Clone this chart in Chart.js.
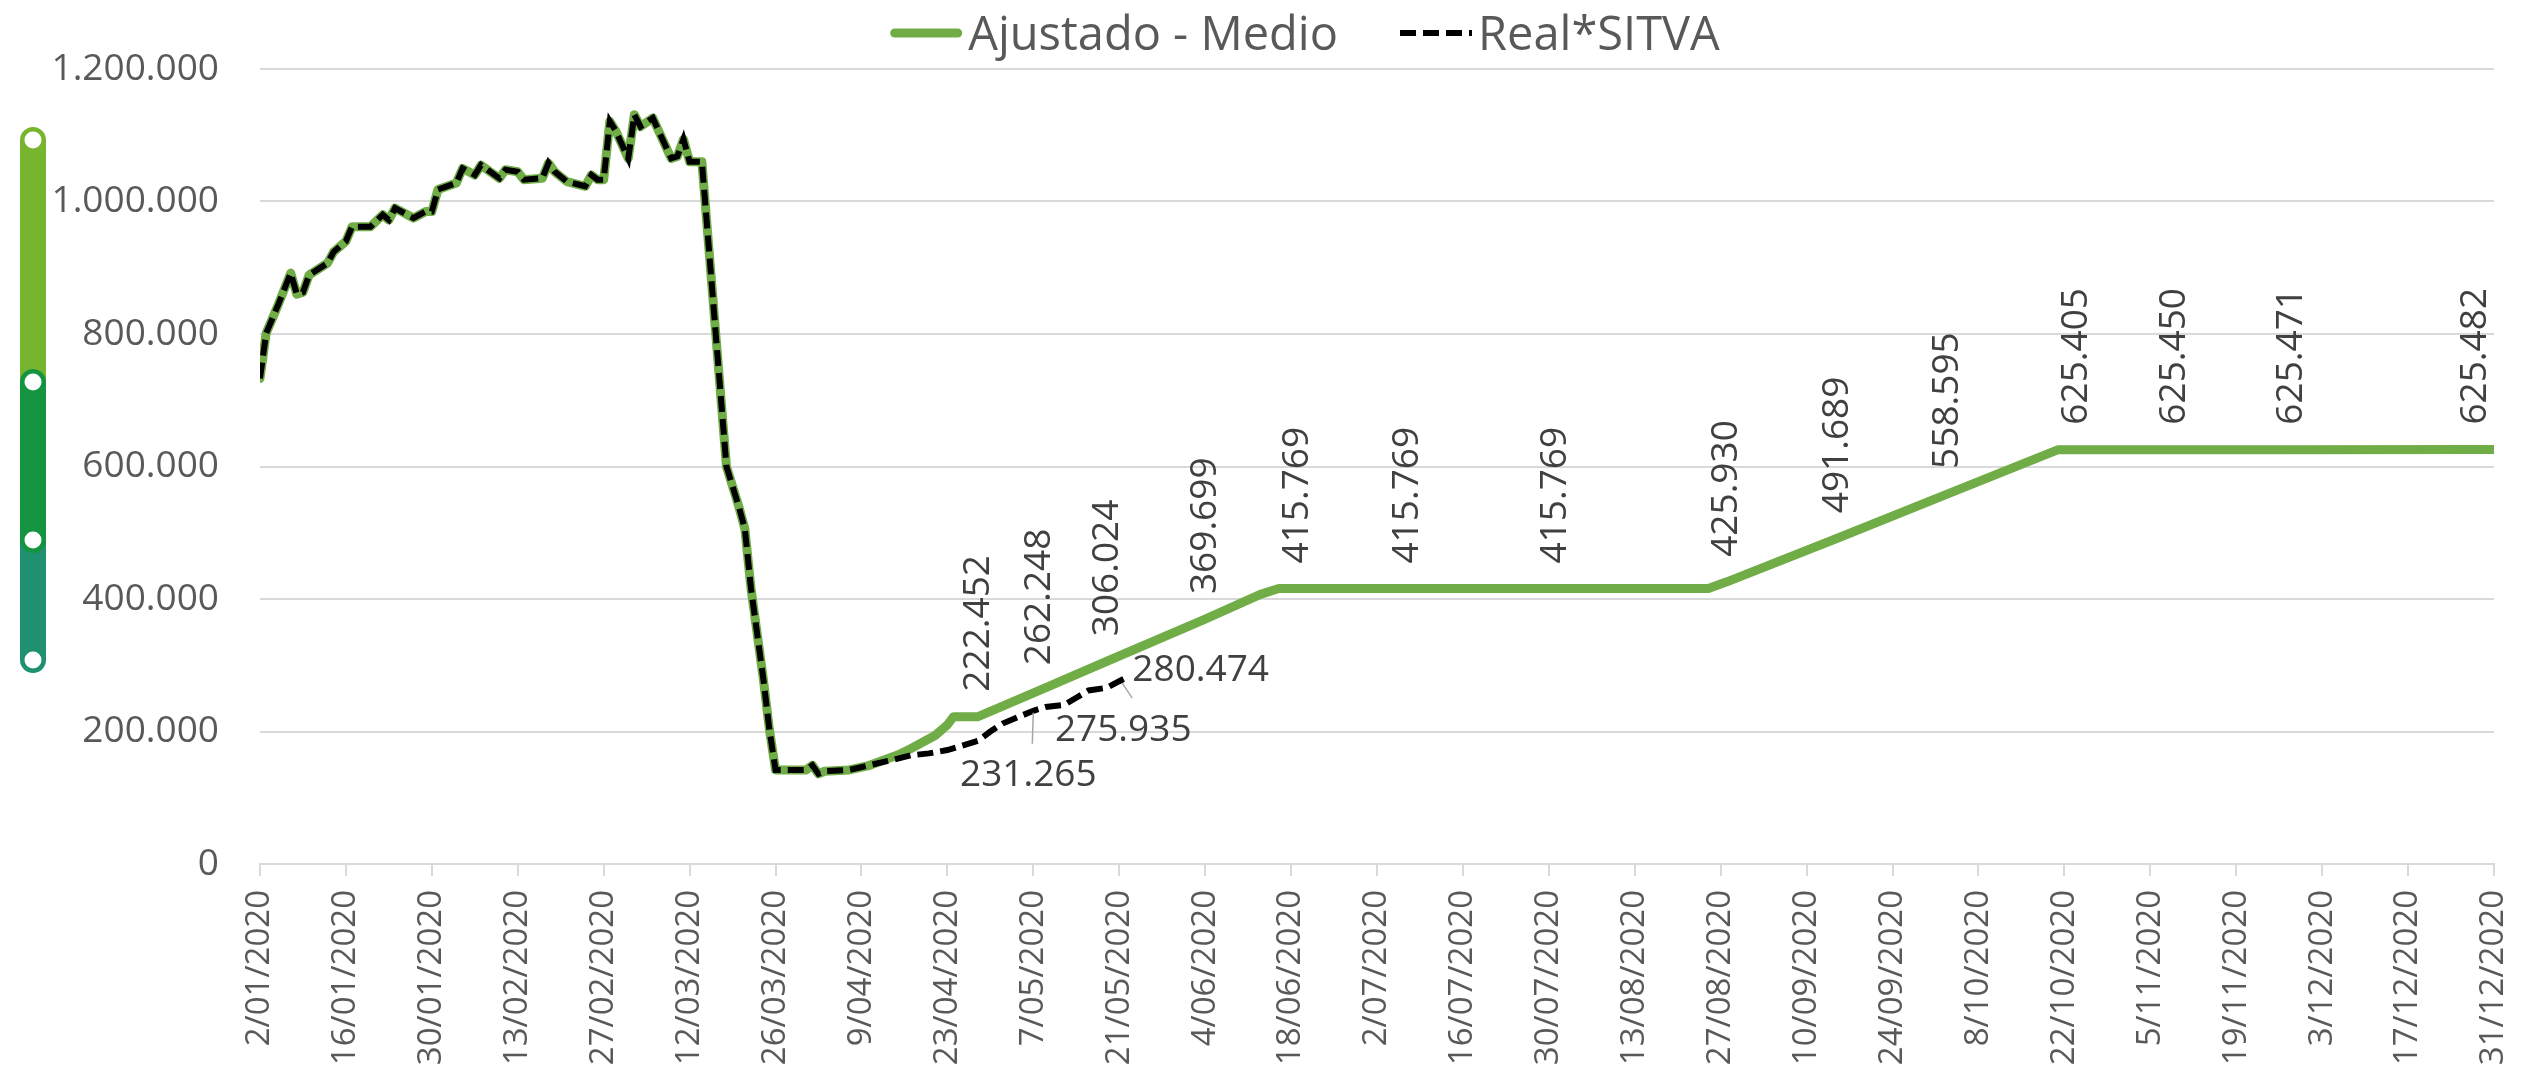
<!DOCTYPE html>
<html>
<head>
<meta charset="utf-8">
<title>Ajustado - Medio / Real*SITVA</title>
<script src="https://cdn.jsdelivr.net/npm/chart.js@4.4.1/dist/chart.umd.min.js"></script>
<style>
  html, body { margin: 0; padding: 0; background: #ffffff; }
  #wrap { position: relative; width: 2521px; height: 1081px; }
</style>
</head>
<body>
<div id="wrap"><canvas id="chart"></canvas></div>
<script>
// X axis: one tick every 14 days
const tickLabels = [
  '2/01/2020', '16/01/2020', '30/01/2020', '13/02/2020', '27/02/2020', '12/03/2020',
  '26/03/2020', '9/04/2020', '23/04/2020', '7/05/2020', '21/05/2020', '4/06/2020',
  '18/06/2020', '2/07/2020', '16/07/2020', '30/07/2020', '13/08/2020', '27/08/2020',
  '10/09/2020', '24/09/2020', '8/10/2020', '22/10/2020', '5/11/2020', '19/11/2020',
  '3/12/2020', '17/12/2020', '31/12/2020'
];
const tickStep = 14;
const yTicks = [0, 200000, 400000, 600000, 800000, 1000000, 1200000];

// Real*SITVA - days counted from 2/01/2020
const realDays = [
  0, 1, 3, 5, 6, 7, 8, 11, 12, 14, 15, 18, 20, 21, 22, 25, 27, 28, 29, 32,
  33, 35, 36, 39, 40, 42, 43, 46, 47, 48, 50, 53, 54, 55, 56, 57, 58, 60, 61, 62,
  64, 67, 68, 69, 70, 72, 76, 78, 79, 80, 82, 83, 84, 89, 90, 91, 92, 96,
  103, 106, 109, 112, 117, 119, 121, 126, 128, 131, 133, 135, 138, 140, 141
];
const realValues = [
  733000, 801000, 845000, 892000, 860000, 863000, 889000, 907000, 924000, 940000,
  962000, 962000, 980000, 972000, 990000, 975000, 985000, 985000, 1018000, 1028000,
  1050000, 1040000, 1055000, 1035000, 1048000, 1045000, 1033000, 1035000, 1058000, 1045000,
  1030000, 1023000, 1040000, 1033000, 1033000, 1121000, 1106000, 1065000, 1131000, 1113000,
  1126000, 1065000, 1068000, 1094000, 1060000, 1060000, 600000, 540000, 506000, 416000,
  280000, 203000, 142000, 142000, 149000, 136000, 140000, 142000,
  157000, 164000, 167000, 172000, 186000, 200000, 212000, 231265, 237000, 240000,
  251000, 262000, 266000, 275935, 280474
];

// Ajustado - Medio: follows the real series up to this day, then the estimate
const ajustadoFromDay = 96;
const estimateDays = [
  99, 104, 106, 110, 112, 113, 117, 127, 138, 154, 163, 166, 169, 187, 211,
  236, 239, 257, 275, 293, 296, 312, 331, 361, 364
];
const estimateValues = [
  148000, 165000, 174000, 194000, 210000, 222452, 222452, 262248, 306024, 369699,
  407000, 415769, 415769, 415769, 415769, 415769, 425930, 491689, 558595, 625405,
  625405, 625450, 625471, 625482, 625482
];

// Points that carry a value label
const ajustadoLabelDays = [117, 127, 138, 154, 169, 187, 211, 239, 257, 275, 296, 312, 331, 361];
const realLabelDays = [126, 140, 141];

// ---------------------------------------------------------------

const fmt = v => String(Math.round(v)).replace(/\B(?=(\d{3})+(?!\d))/g, '.');

const realData = realDays.map((d, i) => ({ x: d, y: realValues[i] }));
const ajustadoData = realData
  .filter(p => p.x <= ajustadoFromDay)
  .concat(estimateDays.map((d, i) => ({ x: d, y: estimateValues[i] })));

const FONT = '"Open Sans", "Noto Sans", sans-serif';
const AXIS_COLOR = '#595959';
const LABEL_COLOR = '#404040';
const GRID_COLOR = '#D9D9D9';

// placement of the labels of the real series, relative to their point
const realLabelPlacement = {
  126: { dx: -5, dy: 65, align: 'center', leader: [0, 2, -1, 33] },
  140: { dx: 4, dy: 49, align: 'center', leader: [3, 2, 13, 17] },
  141: { dx: 7, dy: -8, align: 'left', leader: null }
};

// value labels drawn on top of the lines
const valueLabels = {
  id: 'valueLabels',
  afterDatasetsDraw(chart) {
    const ctx = chart.ctx;
    ctx.save();
    ctx.font = '37px ' + FONT;
    ctx.fillStyle = LABEL_COLOR;

    // adjusted series: rotated, above the point
    const metaA = chart.getDatasetMeta(0);
    ajustadoData.forEach((p, i) => {
      if (!ajustadoLabelDays.includes(p.x)) return;
      const el = metaA.data[i];
      ctx.save();
      ctx.translate(el.x, el.y - 25);
      ctx.rotate(-Math.PI / 2);
      ctx.textAlign = 'left';
      ctx.textBaseline = 'middle';
      ctx.fillText(fmt(p.y), 0, 0);
      ctx.restore();
    });

    // real series: horizontal labels with leader lines
    const metaR = chart.getDatasetMeta(1);
    realData.forEach((p, i) => {
      if (!realLabelDays.includes(p.x)) return;
      const el = metaR.data[i];
      const pl = realLabelPlacement[p.x];
      if (pl.leader) {
        ctx.beginPath();
        ctx.strokeStyle = '#A6A6A6';
        ctx.lineWidth = 1.5;
        ctx.moveTo(el.x + pl.leader[0], el.y + pl.leader[1]);
        ctx.lineTo(el.x + pl.leader[2], el.y + pl.leader[3]);
        ctx.stroke();
      }
      ctx.textAlign = pl.align;
      ctx.textBaseline = 'middle';
      ctx.fillText(fmt(p.y), el.x + pl.dx, el.y + pl.dy);
    });
    ctx.restore();
  }
};

// legend at the top, built from the dataset styles
const topLegend = {
  id: 'topLegend',
  afterDraw(chart) {
    const ctx = chart.ctx;
    const sets = chart.data.datasets;
    const lineLen = 72, textGap = 6, itemGap = 62, centerX = 1305, baseY = 50, midY = 33;
    ctx.save();
    ctx.font = '47px ' + FONT;
    const widths = sets.map(s => ctx.measureText(s.label).width);
    let total = 0;
    widths.forEach(w => { total += lineLen + textGap + w; });
    total += itemGap * (sets.length - 1);
    let x = centerX - total / 2;
    sets.forEach((s, i) => {
      ctx.beginPath();
      ctx.strokeStyle = s.borderColor;
      ctx.lineWidth = s.borderWidth;
      ctx.lineCap = s.borderCapStyle || 'butt';
      ctx.setLineDash(s.borderDash || []);
      const inset = ctx.lineCap === 'round' ? s.borderWidth / 2 : 0;
      ctx.moveTo(x + inset, midY);
      ctx.lineTo(x + lineLen - inset, midY);
      ctx.stroke();
      ctx.setLineDash([]);
      ctx.fillStyle = AXIS_COLOR;
      ctx.textAlign = 'left';
      ctx.textBaseline = 'alphabetic';
      ctx.fillText(s.label, x + lineLen + textGap, baseY);
      x += lineLen + textGap + widths[i] + itemGap;
    });
    ctx.restore();
  }
};

// coloured marker on the left edge
const sideMarker = {
  id: 'sideMarker',
  afterDraw(chart) {
    const ctx = chart.ctx;
    const cx = 33, w = 26, r = 8.5;
    const segs = [
      { y0: 140, y1: 382, c: '#78B52E' },
      { y0: 540, y1: 660, c: '#1F9170' },
      { y0: 382, y1: 540, c: '#14943F' }
    ];
    ctx.save();
    ctx.lineCap = 'round';
    ctx.lineWidth = w;
    segs.forEach(s => {
      ctx.beginPath();
      ctx.strokeStyle = s.c;
      ctx.moveTo(cx, s.y0);
      ctx.lineTo(cx, s.y1);
      ctx.stroke();
    });
    ctx.fillStyle = '#FFFFFF';
    [140, 382, 540, 660].forEach(y => {
      ctx.beginPath();
      ctx.arc(cx, y, r, 0, Math.PI * 2);
      ctx.fill();
    });
    ctx.restore();
  }
};

new Chart(document.getElementById('chart'), {
  type: 'line',
  data: {
    datasets: [
      {
        label: 'Ajustado - Medio',
        data: ajustadoData,
        borderColor: '#70AD47',
        borderWidth: 9,
        borderCapStyle: 'round',
        borderJoinStyle: 'round',
        pointRadius: 0,
        tension: 0,
        order: 2
      },
      {
        label: 'Real*SITVA',
        data: realData,
        borderColor: '#000000',
        borderWidth: 6,
        borderDash: [16, 7],
        pointRadius: 0,
        tension: 0,
        order: 1
      }
    ]
  },
  options: {
    responsive: true,
    maintainAspectRatio: false,
    animation: false,
    layout: { padding: { top: 69, right: 27, bottom: 0, left: 0 } },
    plugins: {
      legend: { display: false },
      tooltip: { enabled: false }
    },
    scales: {
      x: {
        type: 'linear',
        min: 0,
        max: tickStep * (tickLabels.length - 1),
        afterBuildTicks: axis => {
          axis.ticks = tickLabels.map((_, i) => ({ value: i * tickStep }));
        },
        afterFit: s => {
          s.height = 217;
          s.paddingLeft = 0;
          s.paddingRight = 0;
        },
        ticks: {
          autoSkip: false,
          minRotation: 90,
          maxRotation: 90,
          padding: 14,
          color: AXIS_COLOR,
          font: { family: FONT, size: 33 },
          callback: (v, i) => tickLabels[i]
        },
        grid: {
          drawOnChartArea: false,
          drawTicks: true,
          tickLength: 12,
          color: GRID_COLOR,
          lineWidth: 2
        },
        border: { display: true, color: GRID_COLOR, width: 2 }
      },
      y: {
        min: 0,
        max: 1200000,
        afterBuildTicks: axis => {
          axis.ticks = yTicks.map(v => ({ value: v }));
        },
        afterFit: s => { s.width = 260; },
        ticks: {
          padding: 41,
          color: AXIS_COLOR,
          font: { family: FONT, size: 37 },
          callback: v => fmt(v)
        },
        grid: { color: GRID_COLOR, lineWidth: 2, drawTicks: false },
        border: { display: false }
      }
    }
  },
  plugins: [valueLabels, topLegend, sideMarker]
});
</script>
</body>
</html>
